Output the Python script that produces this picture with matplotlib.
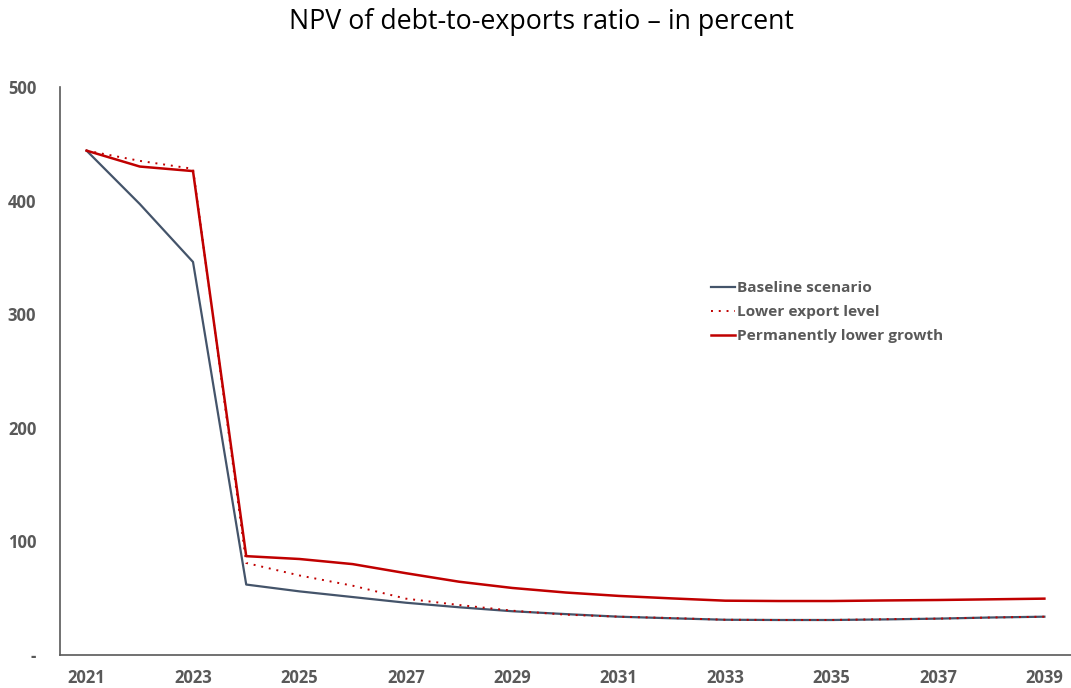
import numpy as np
import matplotlib.pyplot as plt

# Valores
anios = np.arange(2021, 2040)
base = [444, 397, 346, 62, 56, 51, 46, 42, 38.5, 36, 33.7, 32.3, 31, 30.8, 30.8, 31.3, 32, 33, 33.7]
exportaciones = [444, 435, 428, 81, 70, 61, 49.6, 44, 39, 35.5, 33.7, 32.5, 31, 30.8, 30.8, 31.5, 32, 33, 33.7]
crecimiento = [444, 430, 426, 87, 84.5, 80, 72, 64.5, 59, 55, 52, 49.8, 47.8, 47.5, 47.5, 48, 48.4, 49, 49.6]

etiquetas_x = [str(a) for a in range(2021, 2040, 2)]
etiquetas_y = ['-', '100', '200', '300', '400', '500']

gris = '#595959'

fig = plt.figure(figsize=(10.71, 6.88), dpi=100)
ax = fig.add_axes([0.056, 0.048, 0.944, 0.8255])

ax.plot(anios, base, color='#44546A', lw=1.6, label='Baseline scenario')
ax.plot(anios, exportaciones, color='#C00000', lw=1.4, ls=(0, (1, 3)), label='Lower export level')
ax.plot(anios, crecimiento, color='#C00000', lw=1.8, label='Permanently lower growth')

ax.set_xlim(2020.5, 2039.5)
ax.set_ylim(0, 500)
ax.set_xticks(range(2021, 2040, 2))
ax.set_xticklabels(etiquetas_x)
ax.set_yticks(range(0, 501, 100))
ax.set_yticklabels(etiquetas_y)
ax.tick_params(length=0, labelsize=12, labelcolor=gris, pad=10)
ax.tick_params(axis='y', pad=17)
for lbl in ax.get_xticklabels() + ax.get_yticklabels():
    lbl.set_fontweight('bold')
    lbl.set_family('Open Sans')

for s in ['top', 'right']:
    ax.spines[s].set_visible(False)
for s in ['left', 'bottom']:
    ax.spines[s].set_color('#595959')
    ax.spines[s].set_linewidth(1.2)

fig.suptitle('NPV of debt-to-exports ratio \u2013 in percent', x=0.506, y=0.988, fontsize=19.3,
             family='Open Sans', color='black')

leg = ax.legend(loc='upper left', bbox_to_anchor=(0.63, 0.683), frameon=False,
                handlelength=1.6, handletextpad=0.1, labelspacing=0.65,
                prop={'family': 'Open Sans', 'weight': 'bold', 'size': 11.1})
for t in leg.get_texts():
    t.set_color(gris)

fig.savefig('out.png', dpi=100)
